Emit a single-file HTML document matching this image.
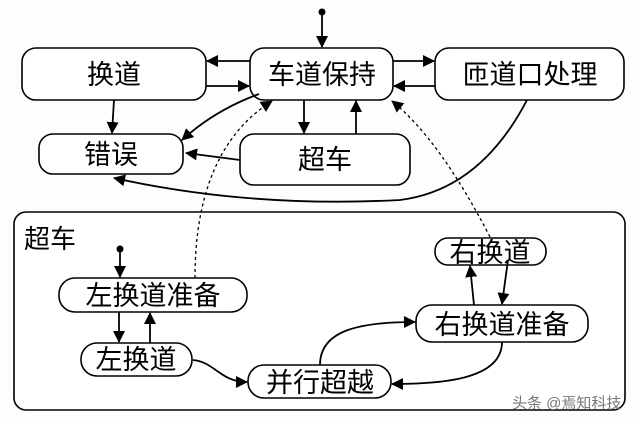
<!DOCTYPE html>
<html><head><meta charset="utf-8"><style>
body{margin:0;background:#fff;}
svg text{font-family:"Liberation Sans","Noto Sans CJK SC",sans-serif;fill:#000;}
</style></head><body>
<svg width="640" height="422" viewBox="0 0 640 422" xmlns="http://www.w3.org/2000/svg">
<defs>
<marker id="a" markerWidth="12" markerHeight="12" refX="11" refY="6" orient="auto" markerUnits="userSpaceOnUse">
<path d="M0,0 L12,6 L0,12 z" fill="#000"/></marker>
</defs>
<rect width="640" height="422" fill="#fcfdfd"/>
<g fill="#fff" stroke="#000" stroke-width="1.6">
<rect x="22" y="48" width="184" height="52" rx="14"/>
<rect x="250" y="48" width="143" height="52" rx="14"/>
<rect x="435" y="48" width="189" height="52" rx="14"/>
<rect x="39" y="134" width="144" height="40" rx="14"/>
<rect x="240" y="134" width="170" height="51" rx="14"/>
<rect x="14" y="212" width="611" height="198" rx="12"/>
<rect x="59" y="278" width="188" height="34" rx="16"/>
<rect x="81" y="343" width="111" height="33" rx="16"/>
<rect x="248" y="365" width="143" height="33" rx="16"/>
<rect x="416" y="305" width="172" height="37" rx="16"/>
<rect x="435" y="238" width="111" height="27" rx="13"/>
</g>
<g font-size="27" text-anchor="middle">
<text x="114" y="84">换道</text>
<text x="322" y="84">车道保持</text>
<text x="530" y="84">匝道口处理</text>
<text x="111" y="164">错误</text>
<text x="325" y="169">超车</text>
</g>
<text x="24" y="248" font-size="26">超车</text>
<g font-size="27" text-anchor="middle">
<text x="153" y="305">左换道准备</text>
<text x="136" y="369">左换道</text>
<text x="320" y="392">并行超越</text>
<text x="502" y="334">右换道准备</text>
<text x="490" y="262">右换道</text>
</g>
<text x="512" y="408" font-size="15" style="fill:#777">头条 @焉知科技</text>
<g stroke="#000" stroke-width="1.8" fill="none" marker-end="url(#a)">
<line x1="322" y1="14" x2="322" y2="47"/>
<line x1="250" y1="61" x2="207" y2="61"/>
<line x1="206" y1="86" x2="249" y2="86"/>
<line x1="393" y1="61" x2="434" y2="61"/>
<line x1="435" y1="86" x2="394" y2="86"/>
<line x1="114" y1="100" x2="112" y2="133"/>
<path d="M259,94 Q215,110 182,140"/>
<line x1="240" y1="160" x2="186" y2="153"/>
<line x1="304" y1="100" x2="304" y2="133"/>
<line x1="356" y1="134" x2="356" y2="101"/>
<path d="M527,100 Q480,190 400,200 Q250,208 114,178"/>
<line x1="120" y1="250" x2="120" y2="277"/>
<line x1="119" y1="312" x2="119" y2="342"/>
<line x1="150" y1="343" x2="150" y2="313"/>
<path d="M193,360 C215,362 220,382 247,382"/>
<path d="M320,365 C320,330 360,322 415,322"/>
<path d="M502,342 C502,380 440,384 392,384"/>
<line x1="474" y1="305" x2="470" y2="266"/>
<line x1="508" y1="260" x2="502" y2="304"/>
</g>
<g stroke="#000" stroke-width="1.3" fill="none" stroke-dasharray="3,3" marker-end="url(#a)">
<path d="M195,278 Q195,150 272,101"/>
<path d="M490,237 Q440,140 392,101"/>
</g>
<circle cx="322" cy="12" r="3.5" fill="#000"/>
<circle cx="120" cy="249" r="3.5" fill="#000"/>
</svg>
</body></html>
